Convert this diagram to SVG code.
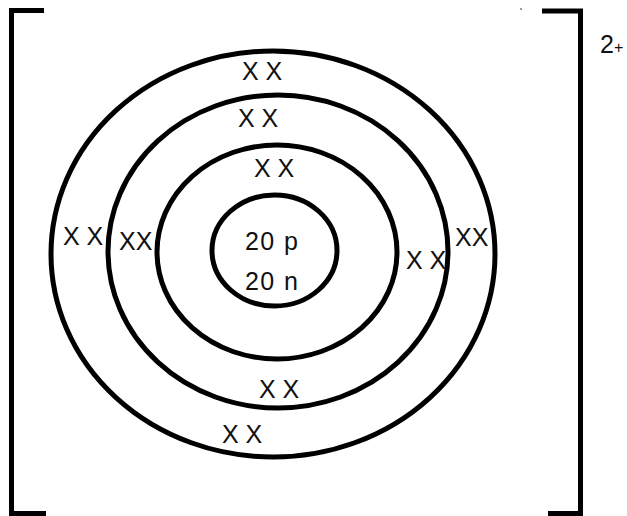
<svg xmlns="http://www.w3.org/2000/svg" width="627" height="516" viewBox="0 0 627 516">
<style>
.ring{fill:none;stroke:#000;stroke-width:5}
.br{fill:none;stroke:#000;stroke-width:5;stroke-linejoin:miter}
.t{font-family:"Liberation Sans",Arial,sans-serif;font-size:25px;fill:#111}
</style>
<rect width="627" height="516" fill="#fff"/>
<g id="bracket-left"><path class="br" d="M44 10.5 H11.5 V513.5 H46"/></g>
<g id="bracket-right"><path class="br" d="M542 11 H580.5 V513.5 H548"/></g>
<circle cx="521" cy="9" r="1" fill="#777"/>
<g id="charge"><text class="t" x="600" y="53" font-size="23">2<tspan font-size="16">+</tspan></text></g>
<g id="shell-4">
<ellipse class="ring" cx="273" cy="254" rx="222" ry="203"/>
<text class="t" x="242" y="80">X X</text>
<text class="t" x="63" y="245">X X</text>
<text class="t" x="455" y="246">XX</text>
<text class="t" x="222" y="443">X X</text>
</g>
<g id="shell-3">
<ellipse class="ring" cx="278" cy="251.5" rx="170" ry="156.5"/>
<text class="t" x="238" y="127">X X</text>
<text class="t" x="119" y="250">XX</text>
<text class="t" x="406" y="269">X X</text>
<text class="t" x="259" y="398">X X</text>
</g>
<g id="shell-2">
<ellipse class="ring" cx="277" cy="252" rx="120" ry="107"/>
<text class="t" x="254" y="177">X X</text>
</g>
<g id="nucleus">
<ellipse class="ring" cx="274.5" cy="250.5" rx="62.5" ry="55.5"/>
<text class="t" x="245" y="250" textLength="53">20 p</text>
<text class="t" x="245" y="290" textLength="53">20 n</text>
</g>
<g id="connectors"/>
</svg>
